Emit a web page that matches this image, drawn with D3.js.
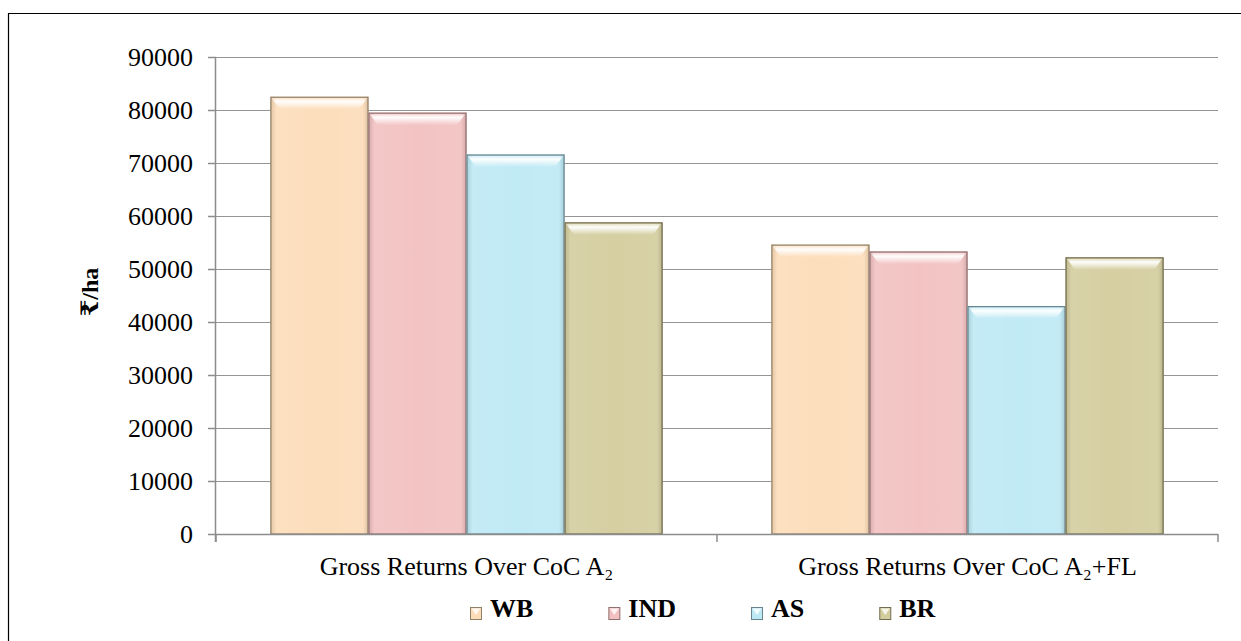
<!DOCTYPE html>
<html>
<head>
<meta charset="utf-8">
<script src="https://cdn.jsdelivr.net/npm/d3@7"></script>
<style>
  html, body { margin: 0; padding: 0; background: #fff; }
  svg { display: block; }
  svg text { font-family: "Times New Roman", "Liberation Serif", Tinos, Times, "DejaVu Serif", serif !important; fill: #000; }
</style>
</head>
<body>
<svg id="chart" width="1241" height="641"></svg>
<script>
// Returns per hectare (₹/ha) by state
const categories = ["Gross Returns Over CoC A₂", "Gross Returns Over CoC A₂+FL"];
const seriesNames = ["WB", "IND", "AS", "BR"];
const WB  = [82500, 54600];
const IND = [79500, 53300];
const AS  = [71600, 43000];
const BR  = [58800, 52200];
const yTicks = [0, 10000, 20000, 30000, 40000, 50000, 60000, 70000, 80000, 90000];
const yLabel = "₹/ha";

const seriesValues = [WB, IND, AS, BR];
const colors = ["#fcdcb8", "#f2c0c0", "#bde9f4", "#d3cc9d"];
const edges  = ["#8f8068", "#8f7070", "#67848c", "#726c50"];

const svg = d3.select("#chart");
const W = 1241, H = 641;
const margin = { left: 216, right: 23, top: 57, bottom: 107 };
const plotW = W - margin.left - margin.right;
const plotH = H - margin.top - margin.bottom;

// outer frame (left and top edges)
svg.append("line").attr("x1", 8.5).attr("y1", 13.5).attr("x2", 8.5).attr("y2", H)
  .attr("stroke", "#000").attr("stroke-width", 1.2);
svg.append("line").attr("x1", 8).attr("y1", 13.5).attr("x2", W).attr("y2", 13.5)
  .attr("stroke", "#000").attr("stroke-width", 1.2);

const g = svg.append("g").attr("transform", `translate(${margin.left},${margin.top})`);

const x0 = d3.scaleBand().domain(categories).range([0, plotW]).paddingInner(0).paddingOuter(0);
const x1 = d3.scaleBand().domain(seriesNames).range([0, x0.bandwidth()]).paddingInner(0).paddingOuter(0.555);
const y = d3.scaleLinear().domain([0, 90000]).range([plotH, 0]);

// gradients for the bevelled bars
const defs = svg.append("defs");
const topGrad = defs.append("linearGradient").attr("id", "topShine").attr("x1", 0).attr("y1", 0).attr("x2", 0).attr("y2", 1);
topGrad.append("stop").attr("offset", "0%").attr("stop-color", "#fff").attr("stop-opacity", 0.35);
topGrad.append("stop").attr("offset", "30%").attr("stop-color", "#fff").attr("stop-opacity", 0.95);
topGrad.append("stop").attr("offset", "100%").attr("stop-color", "#fff").attr("stop-opacity", 0);
const sideGrad = defs.append("linearGradient").attr("id", "sideShade").attr("x1", 0).attr("y1", 0).attr("x2", 1).attr("y2", 0);
sideGrad.append("stop").attr("offset", "0%").attr("stop-color", "#000").attr("stop-opacity", 0.10);
sideGrad.append("stop").attr("offset", "6%").attr("stop-color", "#fff").attr("stop-opacity", 0.12);
sideGrad.append("stop").attr("offset", "50%").attr("stop-color", "#fff").attr("stop-opacity", 0.05);
sideGrad.append("stop").attr("offset", "94%").attr("stop-color", "#fff").attr("stop-opacity", 0.10);
sideGrad.append("stop").attr("offset", "100%").attr("stop-color", "#000").attr("stop-opacity", 0.14);

// gridlines
g.append("g").selectAll("line").data(yTicks.filter(d => d > 0)).join("line")
  .attr("x1", 0).attr("x2", plotW)
  .attr("y1", d => Math.round(y(d)) + 0.5).attr("y2", d => Math.round(y(d)) + 0.5)
  .attr("stroke", "#959595").attr("stroke-width", 1);

// y axis
const yAxis = g.append("g").call(d3.axisLeft(y).tickValues(yTicks).tickSize(8).tickPadding(15).tickFormat(d3.format("d")));
yAxis.attr("font-family", null);
yAxis.select(".domain").attr("stroke", "#8c8c8c").attr("stroke-width", 1.5).attr("d", `M-0.5,${plotH + 8}V0`);
yAxis.selectAll(".tick line").attr("stroke", "#8c8c8c").attr("stroke-width", 1.5);
yAxis.selectAll(".tick text").style("font-size", "26px").attr("fill", "#000");

// bars
const data = categories.map((c, i) => ({ cat: c, vals: seriesNames.map((s, j) => ({ s, j, v: seriesValues[j][i] })) }));
const groups = g.append("g").selectAll("g").data(data).join("g")
  .attr("transform", d => `translate(${x0(d.cat)},0)`);
const bars = groups.selectAll("g.bar").data(d => d.vals).join("g").attr("class", "bar");
bars.append("rect")
  .attr("x", d => x1(d.s)).attr("y", d => y(d.v))
  .attr("width", x1.bandwidth()).attr("height", d => plotH - y(d.v))
  .attr("fill", d => colors[d.j]);
bars.append("rect")
  .attr("x", d => x1(d.s)).attr("y", d => y(d.v))
  .attr("width", x1.bandwidth()).attr("height", d => plotH - y(d.v))
  .attr("fill", "url(#sideShade)");
bars.append("path")
  .attr("d", d => {
    const xl = x1(d.s) + 1.5, xr = x1(d.s) + x1.bandwidth() - 1.5, yt = y(d.v) + 1.5;
    return `M${xl},${yt}H${xr}L${xr - 8},${yt + 11}H${xl + 8}Z`;
  })
  .attr("fill", "url(#topShine)");
bars.append("rect")
  .attr("x", d => x1(d.s) + 0.5).attr("y", d => y(d.v) + 0.5)
  .attr("width", x1.bandwidth() - 1).attr("height", d => plotH - y(d.v) - 0.5)
  .attr("fill", "none").attr("stroke", d => edges[d.j]).attr("stroke-width", 1.2);

// x axis
const xAxisG = g.append("g").attr("transform", `translate(0,${plotH})`);
xAxisG.append("line").attr("x1", 0).attr("x2", plotW).attr("y1", 0.5).attr("y2", 0.5)
  .attr("stroke", "#8c8c8c").attr("stroke-width", 1.5);
xAxisG.selectAll("line.tk").data([0, ...categories.map(c => x0(c) + x0.bandwidth())]).join("line")
  .attr("class", "tk").attr("x1", d => d).attr("x2", d => d).attr("y1", 0).attr("y2", 8)
  .attr("stroke", "#8c8c8c").attr("stroke-width", 1.5);
xAxisG.selectAll("text").data(categories).join("text")
  .attr("x", d => x0(d) + x0.bandwidth() / 2).attr("y", 41)
  .attr("text-anchor", "middle").style("font-size", "26px")
  .text(d => d);

// y axis title
svg.append("text")
  .attr("transform", "translate(98,292) rotate(-90)")
  .attr("text-anchor", "middle")
  .style("font-size", "24px").style("font-weight", "bold")
  .text(yLabel);

// legend
const legend = svg.append("g").attr("transform", "translate(470,617)");
let lx = 0;
seriesNames.forEach((s, i) => {
  const item = legend.append("g").attr("transform", `translate(${lx},0)`);
  item.append("rect").attr("x", 0.5).attr("y", -9.5).attr("width", 11).attr("height", 12)
    .attr("fill", colors[i]).attr("stroke", edges[i]).attr("stroke-width", 1);
  item.append("path").attr("d", "M1.5,-8.5H10.5L6,-2Z").attr("fill", "#fff").attr("opacity", 0.8);
  const t = item.append("text").attr("x", 20).attr("y", 0)
    .style("font-size", "26px").style("font-weight", "bold").text(s);
  lx += 20 + t.node().getComputedTextLength() + 75;
});
</script>
</body>
</html>
